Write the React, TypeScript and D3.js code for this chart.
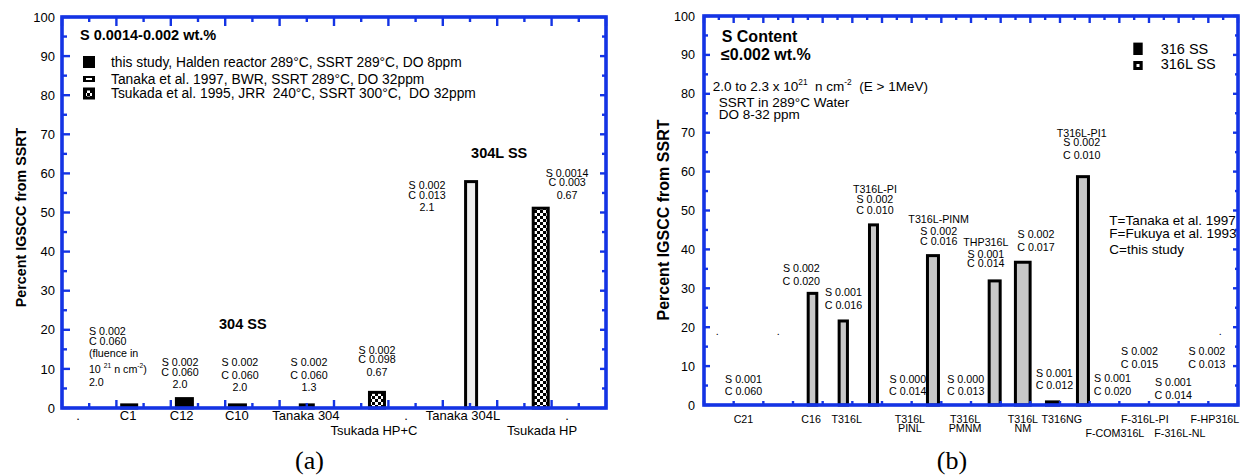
import React from "react";
import * as d3 from "d3";

const SANS = "'Liberation Sans', Arial, Helvetica, sans-serif";
const SERIF = "'Liberation Serif', 'Times New Roman', serif";
const AXIS_BLUE = "#1434e4";

// ---------- Panel (a): S 0.0014-0.002 wt.% ----------
const aCategories = ["C1", "C12", "C10", "Tanaka 304", "Tsukada HP+C", "Tanaka 304L", "Tsukada HP"];
const aIgscc = [0.8, 2.4, 0.8, 0.8, 4.0, 57.9, 51.1];
const aSource = ["study", "study", "study", "tanaka", "tsukada", "tanaka", "tsukada"];
const aSlot = [2.47, 4.5, 6.45, 9.0, 11.58, 15.04, 17.6];

const aTickLabels = [".", "C1", "C12", "C10", "Tanaka 304", "Tsukada HP+C", ".", "Tanaka 304L", "Tsukada HP", "."];
const aTickSlots = [0.59, 2.43, 4.4, 6.43, 8.97, 11.47, 12.65, 14.74, 17.65, 18.57];
const aTickRows = [0, 0, 0, 0, 0, 1, 0, 0, 1, 0];

const aNotes = [
  ["S 0.002", "C 0.060", "(fluence in", "10 ^{21} n cm^{-2})", "2.0"],
  ["S 0.002", "C 0.060", "2.0"],
  ["S 0.002", "C 0.060", "2.0"],
  ["S 0.002", "C 0.060", "1.3"],
  ["S 0.002", "C 0.098", "0.67"],
  ["S 0.002", "C 0.013", "2.1"],
  ["S 0.0014", "C 0.003", "0.67"],
];

const aLegendKeys = ["study", "tanaka", "tsukada"];
const aLegendLabels = [
  "this study, Halden reactor 289°C, SSRT 289°C, DO 8ppm",
  "Tanaka et al. 1997, BWR, SSRT 289°C, DO 32ppm",
  "Tsukada et al. 1995, JRR  240°C, SSRT 300°C,  DO 32ppm",
];

// ---------- Panel (b): S content <= 0.002 wt.% ----------
const bCategories = ["C16", "T316L", "T316L-PI", "T316L-PINM", "THP316L", "T316L NM", "T316NG", "T316L-PI1"];
const bIgscc = [28.7, 21.6, 46.3, 38.4, 31.9, 36.7, 0.8, 58.7];
const bGrade = ["316L", "316L", "316L", "316L", "316L", "316L", "316", "316L"];
const bSlot = [3.657, 4.695, 5.713, 7.718, 9.798, 10.745, 11.746, 12.774];

const bTickLabels = ["C21", "C16", "T316L", "T316L\nPINL", "T316L\nPMNM", "T316L\nNM", "T316NG", "F-COM316L", "F-316L-PI", "F-316L-NL", "F-HP316L"];
const bTickSlots = [1.33, 3.61, 4.81, 6.94, 8.8, 10.75, 12.06, 13.85, 14.86, 16.04, 17.22];
const bTickRows = [0, 0, 0, 0, 0, 0, 0, 1, 0, 1, 0];

const bNotes = [
  ["S 0.001", "C 0.060"],
  ["S 0.002", "C 0.020"],
  ["S 0.001", "C 0.016"],
  ["T316L-PI", "S 0.002", "C 0.010"],
  ["T316L-PINM", "S 0.002", "C 0.016"],
  ["THP316L", "S 0.001", "C 0.014"],
  ["S 0.002", "C 0.017"],
  ["S 0.000", "C 0.014"],
  ["S 0.000", "C 0.013"],
  ["S 0.001", "C 0.012"],
  ["T316L-PI1", "S 0.002", "C 0.010"],
  ["S 0.001", "C 0.020"],
  ["S 0.002", "C 0.015"],
  ["S 0.001", "C 0.014"],
  ["S 0.002", "C 0.013"],
];

const bLegendKeys = ["316", "316L"];
const bLegendLabels = ["316 SS", "316L SS"];
const bRefs = ["T=Tanaka et al. 1997", "F=Fukuya et al. 1993", "C=this study"];
const bConditions = ["2.0 to 2.3 x 10^{21}  n cm^{-2}  (E > 1MeV)", "SSRT in 289°C Water", "DO 8-32 ppm"];

// ---------- layout ----------
const aBarWidths = [18, 19, 19, 16, 18, 14, 18];
const bBarWidths = [11.6, 11.3, 11, 14, 14, 17.7, 15, 14];

// note placement: x in slot units, y of first line in value units, then px offsets
const aNoteLayout = [
  { x: 0.99, anchor: "start", top: 19.69, dy: [0, 10, 22.5, 38, 50.7] },
  { x: 4.34, anchor: "middle", top: 11.64, dy: [0, 10, 21.5] },
  { x: 6.54, anchor: "middle", top: 11.64, dy: [0, 13, 24.5] },
  { x: 9.08, anchor: "middle", top: 11.64, dy: [0, 13, 24.5] },
  { x: 11.58, anchor: "middle", top: 14.91, dy: [0, 9.3, 22.8] },
  { x: 13.42, anchor: "middle", top: 57.03, dy: [0, 10, 22] },
  { x: 18.57, anchor: "middle", top: 60.1, dy: [0, 9.5, 22] },
];
const bNoteLayout = [
  { x: 1.33, top: 6.68, dy: [0, 12] },
  { x: 3.28, top: 35.3, dy: [0, 13.3] },
  { x: 4.7, top: 28.9, dy: [0, 12.5] },
  { x: 5.76, top: 55.4, dy: [0, 9.2, 21] },
  { x: 7.91, top: 47.7, dy: [0, 12, 21.5] },
  { x: 9.5, top: 41.9, dy: [0, 12.5, 21] },
  { x: 11.19, top: 43.8, dy: [0, 12.2] },
  { x: 6.87, top: 6.68, dy: [0, 12] },
  { x: 8.82, top: 6.68, dy: [0, 12] },
  { x: 11.81, top: 8.15, dy: [0, 11.7] },
  { x: 12.73, top: 69.9, dy: [0, 9.5, 22.5] },
  { x: 13.77, top: 6.81, dy: [0, 12.5] },
  { x: 14.68, top: 13.88, dy: [0, 13] },
  { x: 15.82, top: 5.84, dy: [0, 12.7] },
  { x: 16.95, top: 13.88, dy: [0, 13] },
];

// baseline for a line whose cap-height centre sits at `c`
const base = (c: number, fs: number) => c + 0.358 * fs;

function Rich({ x, y, text, fs, anchor = "start", weight = "normal" }: any) {
  const parts = text.split(/(\^\{[^}]*\})/).filter((p: string) => p.length);
  const shift = fs * 0.42;
  let raised = false;
  const spans: any[] = [];
  parts.forEach((p: string, i: number) => {
    if (p.startsWith("^{")) {
      spans.push(
        <tspan key={i} dy={raised ? 0 : -shift} fontSize={fs * 0.62}>
          {p.slice(2, -1)}
        </tspan>
      );
      raised = true;
    } else {
      spans.push(
        <tspan key={i} dy={raised ? shift : 0} fontSize={fs}>
          {p}
        </tspan>
      );
      raised = false;
    }
  });
  return (
    <text x={x} y={y} fontSize={fs} fontFamily={SANS} fontWeight={weight} textAnchor={anchor} style={{ whiteSpace: "pre" }} fill="#000">
      {spans}
    </text>
  );
}

function Frame({ xs, ys, topStep, topMajor, botStep, botMajor, len }: any) {
  const [x0, x1] = xs.range();
  const [y0, y1] = ys.range();
  const lines: any[] = [];
  const tw = 2.4;
  const yt = d3.range(0, 100.01, 5);
  yt.forEach((v: number, i: number) => {
    const y = ys(v);
    const maj = v % 10 === 0;
    lines.push(<line key={"l" + i} x1={x0} x2={x0 + (maj ? len.left[0] : len.left[1])} y1={y} y2={y} />);
    lines.push(<line key={"r" + i} x1={x1} x2={x1 - (maj ? len.right[0] : len.right[1])} y1={y} y2={y} />);
  });
  const dmax = xs.domain()[1];
  d3.range(0, dmax + 1e-6, topStep).forEach((u: number, i: number) => {
    const x = xs(u);
    const maj = Math.abs(u / topMajor - Math.round(u / topMajor)) < 1e-6;
    lines.push(<line key={"t" + i} x1={x} x2={x} y1={y1} y2={y1 + (maj ? len.top[0] : len.top[1])} />);
  });
  d3.range(0, dmax + 1e-6, botStep).forEach((u: number, i: number) => {
    const x = xs(u);
    const maj = Math.abs(u / botMajor - Math.round(u / botMajor)) < 1e-6;
    lines.push(<line key={"b" + i} x1={x} x2={x} y1={y0} y2={y0 - (maj ? len.bottom[0] : len.bottom[1])} />);
  });
  return (
    <g stroke={AXIS_BLUE} fill="none">
      <g strokeWidth={tw}>{lines}</g>
      <rect x={x0} y={y1} width={x1 - x0} height={y0 - y1} strokeWidth={3.6} />
    </g>
  );
}

function YAxisLabels({ ys, right, fs }: any) {
  return (
    <g>
      {d3.range(0, 101, 10).map((v: number) => (
        <text key={v} x={right} y={base(ys(v), fs)} fontSize={fs} fontFamily={SANS} textAnchor="end">
          {v}
        </text>
      ))}
    </g>
  );
}

export default function App() {
  const ax = d3.scaleLinear().domain([0, 20]).range([62, 606]);
  const ay = d3.scaleLinear().domain([0, 100]).range([408, 17]);
  const bx = d3.scaleLinear().domain([0, 18]).range([704, 1238]);
  const by = d3.scaleLinear().domain([0, 100]).range([405, 16]);

  const aFill: Record<string, string> = { study: "#000", tanaka: "#eeeeee", tsukada: "url(#checker)" };
  const bFill: Record<string, string> = { "316": "#000", "316L": "#c8c8c8" };
  const sw = 3;

  const noteFsA = 10.7;
  const noteFsB = 10.7;

  return (
    <svg width={1242} height={476} style={{ position: "absolute", left: 0, top: 0, background: "#fff" }} fontFamily={SANS}>
      <defs>
        <pattern id="checker" width="6" height="6" patternUnits="userSpaceOnUse">
          <rect width="6" height="6" fill="#fff" />
          <rect width="3" height="3" fill="#000" />
          <rect x="3" y="3" width="3" height="3" fill="#000" />
        </pattern>
      </defs>
      <rect width={1242} height={476} fill="#fff" />

      {/* ================= panel (a) ================= */}
      <g>
        {aCategories.map((c, i) => {
          const w = aBarWidths[i] - sw;
          const cx = ax(aSlot[i]);
          return (
            <rect
              key={c}
              x={cx - w / 2}
              y={ay(aIgscc[i])}
              width={w}
              height={ay(0) - ay(aIgscc[i])}
              fill={aFill[aSource[i]]}
              stroke="#000"
              strokeWidth={sw}
            />
          );
        })}
        <Frame
          xs={ax}
          ys={ay}
          topStep={1}
          topMajor={2}
          botStep={1}
          botMajor={2}
          len={{ left: [8, 5], right: [6, 4], top: [9, 5], bottom: [8, 5] }}
        />
        <YAxisLabels ys={ay} right={55} fs={13} />
        <text transform="translate(26,217.5) rotate(-90)" fontSize={14.3} fontWeight="bold" textAnchor="middle" fontFamily={SANS}>
          Percent IGSCC from SSRT
        </text>
        {aTickLabels.map((t, i) => (
          <text
            key={i}
            x={ax(aTickSlots[i])}
            y={aTickRows[i] === 0 ? base(415.5, 13) : base(430, 13)}
            fontSize={13}
            textAnchor="middle"
            fontFamily={SANS}
          >
            {t}
          </text>
        ))}
        <text x={80} y={base(35.3, 14.5)} fontSize={14.5} fontWeight="bold" fontFamily={SANS}>
          S 0.0014-0.002 wt.%
        </text>
        {aLegendKeys.map((k, i) => {
          const cy = [62, 79, 93.5][i];
          let sym;
          if (k === "study") sym = <rect x={83} y={cy - 6} width={12} height={12} fill="#000" />;
          else if (k === "tanaka")
            sym = (
              <g>
                <rect x={83} y={cy - 3} width={12} height={6} fill="#000" />
                <rect x={86} y={cy - 1} width={6} height={2} fill="#fff" />
              </g>
            );
          else
            sym = (
              <g>
                <rect x={83} y={cy - 6} width={12} height={12} fill="#000" />
                <rect x={86} y={cy - 3} width={6} height={6} fill="url(#checker)" />
              </g>
            );
          return (
            <g key={k}>
              {sym}
              <text x={111} y={base(cy, 13.8)} fontSize={13.8} fontFamily={SANS} style={{ whiteSpace: "pre" }}>
                {aLegendLabels[i]}
              </text>
            </g>
          );
        })}
        <text x={242.8} y={base(324.2, 14.5)} fontSize={14.5} fontWeight="bold" textAnchor="middle" fontFamily={SANS}>
          304 SS
        </text>
        <text x={499.2} y={base(153, 14.5)} fontSize={14.5} fontWeight="bold" textAnchor="middle" fontFamily={SANS}>
          304L SS
        </text>
        {aNotes.map((lines, i) => {
          const L = aNoteLayout[i];
          const y0 = ay(L.top);
          return (
            <g key={i}>
              {lines.map((t, j) => (
                <Rich key={j} x={ax(L.x)} y={base(y0 + L.dy[j], noteFsA)} text={t} fs={noteFsA} anchor={L.anchor} />
              ))}
            </g>
          );
        })}
        <text x={309.5} y={469} fontSize={26} fontFamily={SERIF} textAnchor="middle">
          (a)
        </text>
      </g>

      {/* ================= panel (b) ================= */}
      <g>
        {bCategories.map((c, i) => {
          const w = bBarWidths[i] - sw;
          const cx = bx(bSlot[i]);
          return (
            <rect
              key={c}
              x={cx - w / 2}
              y={by(bIgscc[i])}
              width={w}
              height={by(0) - by(bIgscc[i])}
              fill={bFill[bGrade[i]]}
              stroke="#000"
              strokeWidth={sw}
            />
          );
        })}
        <Frame
          xs={bx}
          ys={by}
          topStep={0.5}
          topMajor={1}
          botStep={1}
          botMajor={1}
          len={{ left: [6, 4], right: [5, 3], top: [7, 4], bottom: [4, 4] }}
        />
        <YAxisLabels ys={by} right={695} fs={12.6} />
        <text transform="translate(669.3,220) rotate(-90)" fontSize={16} fontWeight="bold" textAnchor="middle" fontFamily={SANS}>
          Percent IGSCC from SSRT
        </text>
        {bTickLabels.map((t, i) => {
          const parts = t.split("\n");
          const c = bTickRows[i] === 0 ? 418.8 : 433.3;
          return (
            <g key={i}>
              {parts.map((p, j) => (
                <text
                  key={j}
                  x={bx(bTickSlots[i])}
                  y={base(c + j * 9.3, 10.7)}
                  fontSize={10.7}
                  textAnchor="middle"
                  fontFamily={SANS}
                >
                  {p}
                </text>
              ))}
            </g>
          );
        })}
        {[1.33 - 0.88, 2.5, 17.4].map((u, i) => (
          <text key={i} x={bx(u)} y={334.5} fontSize={10.7} textAnchor="middle" fontFamily={SANS}>
            .
          </text>
        ))}
        <text x={721.7} y={base(36.2, 16)} fontSize={16} fontWeight="bold" fontFamily={SANS}>
          S Content
        </text>
        <text x={721} y={base(54.2, 16)} fontSize={16} fontWeight="bold" fontFamily={SANS}>
          ≤0.002 wt.%
        </text>
        <Rich x={712.7} y={base(86.2, 13.5)} text={bConditions[0]} fs={13.5} />
        <Rich x={718.7} y={base(102, 13.5)} text={bConditions[1]} fs={13.5} />
        <Rich x={718.7} y={base(113.8, 13.5)} text={bConditions[2]} fs={13.5} />
        {bLegendKeys.map((k, i) => {
          const cy = [48.8, 65.5][i];
          const sym =
            k === "316" ? (
              <rect x={1133.3} y={cy - 6.2} width={9.4} height={12.4} fill="#000" />
            ) : (
              <g>
                <rect x={1133.3} y={cy - 4.5} width={9.4} height={9} fill="#000" />
                <rect x={1136.5} y={cy - 1.5} width={3} height={3} fill="#fff" />
              </g>
            );
          return (
            <g key={k}>
              {sym}
              <text x={1160.7} y={base([48.8, 64][i], 14.5)} fontSize={14.5} fontFamily={SANS}>
                {bLegendLabels[i]}
              </text>
            </g>
          );
        })}
        {bRefs.map((t, i) => (
          <text key={i} x={1109.3} y={base([220.5, 233.3, 248.7][i], 13.5)} fontSize={13.5} fontFamily={SANS}>
            {t}
          </text>
        ))}
        {bNotes.map((lines, i) => {
          const L = bNoteLayout[i];
          const y0 = by(L.top);
          return (
            <g key={i}>
              {lines.map((t, j) => (
                <Rich key={j} x={bx(L.x)} y={base(y0 + L.dy[j], noteFsB)} text={t} fs={noteFsB} anchor="middle" />
              ))}
            </g>
          );
        })}
        <text x={952} y={469} fontSize={26} fontFamily={SERIF} textAnchor="middle">
          (b)
        </text>
      </g>
    </svg>
  );
}
